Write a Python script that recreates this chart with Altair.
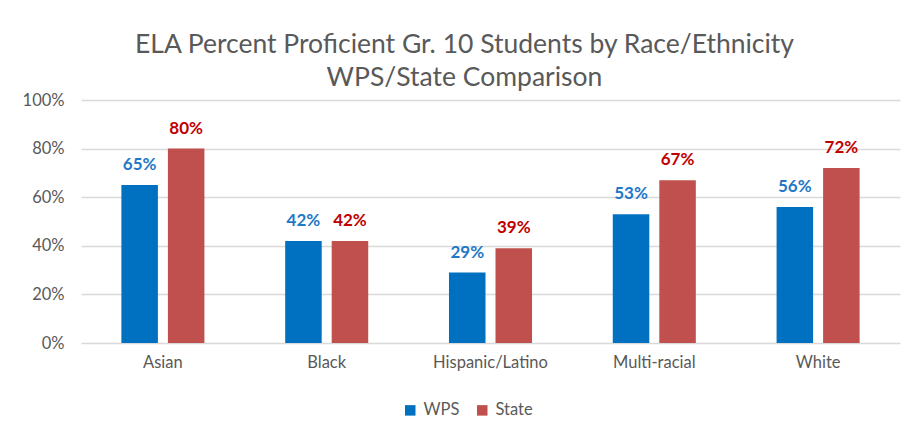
import altair as alt
import pandas as pd

groups = ["Asian", "Black", "Hispanic/Latino", "Multi-racial", "White"]
series = ["WPS", "State"]
wps = [0.65, 0.42, 0.29, 0.53, 0.56]
state = [0.80, 0.42, 0.39, 0.67, 0.72]
title_lines = ["ELA Percent Proficient Gr. 10 Students by Race/Ethnicity", "WPS/State Comparison"]

rows = []
for g, w, s in zip(groups, wps, state):
    rows.append({"group": g, "series": "WPS", "value": w})
    rows.append({"group": g, "series": "State", "value": s})
df = pd.DataFrame(rows)

FONT = "Lato"
GREY = "#595959"

x = alt.X("group:N", sort=groups,
          scale=alt.Scale(paddingInner=0.493, paddingOuter=0.2465),
          axis=alt.Axis(title=None, labelAngle=0, labelFontSize=16.5, labelColor=GREY,
                        labelPadding=11, ticks=False, domain=False, labelFont=FONT, grid=False))
xo = alt.XOffset("series:N", sort=series, scale=alt.Scale(paddingInner=0.215, paddingOuter=0))
y = alt.Y("value:Q", scale=alt.Scale(domain=[0, 1]),
          axis=alt.Axis(title=None, format=".0%", values=[0, 0.2, 0.4, 0.6, 0.8, 1.0],
                        labelFontSize=16.5, labelColor=GREY, labelPadding=17, labelFont=FONT,
                        ticks=False, domain=False, gridColor="#d9d9d9", gridWidth=1.3))

bars = alt.Chart(df).mark_bar().encode(
    x=x, xOffset=xo, y=y,
    color=alt.Color("series:N", sort=series,
                    scale=alt.Scale(domain=series, range=["#0070C0", "#C0504D"]),
                    legend=alt.Legend(title=None, orient="none", direction="horizontal",
                                      legendX=321, legendY=302, symbolType="square",
                                      symbolSize=110, symbolStrokeWidth=0, labelFontSize=16.5,
                                      labelColor=GREY, labelFont=FONT, columnPadding=14,
                                      padding=0, labelOffset=5)),
)

labels = alt.Chart(df).mark_text(fontWeight="bold", fontSize=17, dy=-20, baseline="middle", font=FONT).encode(
    x=x, xOffset=xo, y=y,
    text=alt.Text("value:Q", format=".0%"),
    color=alt.Color("series:N", sort=series,
                    scale=alt.Scale(domain=series, range=["#1F78C8", "#C00000"]),
                    legend=None),
)

chart = alt.layer(bars, labels).resolve_scale(color="independent").properties(
    width=819, height=243,
    title=alt.TitleParams(text=title_lines, fontSize=26.5, color=GREY, font=FONT,
                          fontWeight="normal", anchor="middle", lineHeight=33, offset=1, dx=-26),
    autosize=alt.AutoSizeParams(type="none"),
    padding={"left": 73, "top": 92, "right": 13, "bottom": 89},
    background="white",
).configure_view(stroke=None)

chart.save("out.html", embed_options={"renderer": "svg", "actions": False})
